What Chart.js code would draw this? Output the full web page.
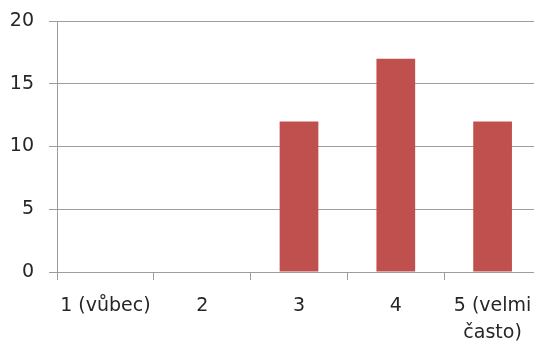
<!DOCTYPE html>
<html>
<head>
<meta charset="utf-8">
<script src="https://cdn.jsdelivr.net/npm/chart.js@4.4.1/dist/chart.umd.min.js"></script>
<style>
  html, body { margin: 0; padding: 0; background: #fff; overflow: hidden; }
  #wrap { width: 550px; height: 345px; }
</style>
</head>
<body>
<div id="wrap"><canvas id="c" width="550" height="345"></canvas></div>
<script>
// Survey answers on a 1–5 frequency scale
const categories = ["1 (vůbec)", "2", "3", "4", ["5 (velmi", "často)"]];
const counts = [0, 0, 12, 17, 12];
const yTicks = [0, 5, 10, 15, 20];

const lineColor = "#9d9d9d";
const textColor = "#262626";
const font = { family: "DejaVu Sans", size: 19 };

new Chart(document.getElementById("c"), {
  type: "bar",
  data: {
    labels: categories,
    datasets: [{
      data: counts,
      backgroundColor: "#C0504D",
      barPercentage: 0.4,
      categoryPercentage: 1.0
    }]
  },
  options: {
    responsive: false,
    animation: false,
    devicePixelRatio: 1,
    layout: { padding: { top: 21, right: 9, left: 0, bottom: 0 } },
    plugins: { legend: { display: false }, tooltip: { enabled: false } },
    scales: {
      x: {
        offset: true,
        grid: {
          offset: true,
          drawOnChartArea: false,
          drawTicks: true,
          tickLength: 8,
          color: lineColor
        },
        border: { color: lineColor },
        ticks: { color: textColor, font: { family: "DejaVu Sans", size: 19, lineHeight: 1.45 }, padding: 12, maxRotation: 0, autoSkip: false },
        afterFit: (s) => { s.height = 73; }
      },
      y: {
        min: 0,
        max: 20,
        afterBuildTicks: (s) => { s.ticks = yTicks.map(v => ({ value: v })); },
        grid: { color: lineColor, tickLength: 8, tickColor: lineColor },
        border: { color: lineColor },
        ticks: { color: textColor, font: font, padding: 15 },
        afterFit: (s) => { s.width = 57; s.paddingTop = 0; s.paddingBottom = 0; }
      }
    }
  }
});
</script>
</body>
</html>
